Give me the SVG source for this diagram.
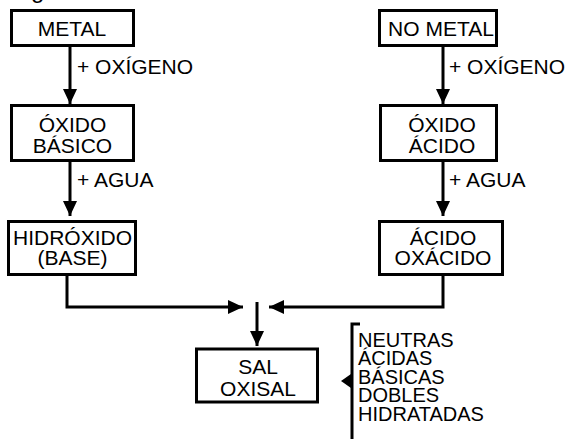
<svg xmlns="http://www.w3.org/2000/svg" width="571" height="439" viewBox="0 0 571 439">
<defs>
<style>
.box{fill:#fff;stroke:#000;stroke-width:3}
.t{font-family:"Liberation Sans",Arial,sans-serif;font-size:21px;fill:#000;text-anchor:middle}
.l{font-family:"Liberation Sans",Arial,sans-serif;font-size:21px;fill:#000}
.s{font-family:"Liberation Sans",Arial,sans-serif;font-size:20px;fill:#000}
.c{fill:none;stroke:#000;stroke-width:3}
</style>
<marker id="ah" markerUnits="userSpaceOnUse" markerWidth="16" markerHeight="16" refX="15" refY="7" orient="auto">
<path d="M0,0 L15,7 L0,14 Z" fill="#000"/>
</marker>
</defs>
<rect width="571" height="439" fill="#fff"/>
<text class="l" x="31" y="-2" style="font-size:24px">g</text>
<g id="metal"><rect class="box" x="11.5" y="10.5" width="122" height="35"/><text class="t" x="72" y="36">METAL</text></g>
<g id="oxido-basico"><rect class="box" x="11.5" y="105.5" width="122" height="55"/><text class="t" x="72.5" y="132">ÓXIDO</text><text class="t" x="72.5" y="153">BÁSICO</text></g>
<g id="hidroxido"><rect class="box" x="8.5" y="221.5" width="127" height="53"/><text class="t" x="72.5" y="245">HIDRÓXIDO</text><text class="t" x="72.5" y="265">(BASE)</text></g>
<g id="no-metal"><rect class="box" x="379.5" y="10.5" width="117" height="35"/><text class="t" x="441" y="36">NO METAL</text></g>
<g id="oxido-acido"><rect class="box" x="380.5" y="105.5" width="116" height="55"/><text class="t" x="442" y="132">ÓXIDO</text><text class="t" x="442" y="153">ÁCIDO</text></g>
<g id="acido-oxacido"><rect class="box" x="379.5" y="221.5" width="123" height="53"/><text class="t" x="443" y="245">ÁCIDO</text><text class="t" x="443" y="265">OXÁCIDO</text></g>
<g id="sal-oxisal"><rect class="box" x="196.5" y="349" width="121" height="53"/><text class="t" x="258" y="374">SAL</text><text class="t" x="258" y="396">OXISAL</text></g>
<g id="tipos">
<path class="c" d="M360,324 H352 V439"/>
<path d="M341,381 L351,374 L351,388 Z" fill="#000"/>
<text class="s" x="358" y="347">NEUTRAS</text>
<text class="s" x="358" y="365">ÁCIDAS</text>
<text class="s" x="358" y="384">BÁSICAS</text>
<text class="s" x="358" y="402">DOBLES</text>
<text class="s" x="358" y="421">HIDRATADAS</text>
</g>
<g id="connectors">
<line class="c" x1="70" y1="47" x2="70" y2="104" marker-end="url(#ah)"/>
<line class="c" x1="70" y1="162" x2="70" y2="216" marker-end="url(#ah)"/>
<line class="c" x1="443" y1="47" x2="443" y2="104" marker-end="url(#ah)"/>
<line class="c" x1="443" y1="162" x2="443" y2="216" marker-end="url(#ah)"/>
<path class="c" d="M67,275 V307 H243" marker-end="url(#ah)"/>
<path class="c" d="M443,275 V307 H269" marker-end="url(#ah)"/>
<line class="c" x1="257" y1="302" x2="257" y2="346" marker-end="url(#ah)"/>
<text class="l" x="77" y="74">+ OXÍGENO</text>
<text class="l" x="77" y="187">+ AGUA</text>
<text class="l" x="449" y="74">+ OXÍGENO</text>
<text class="l" x="449" y="187">+ AGUA</text>
</g>
</svg>
